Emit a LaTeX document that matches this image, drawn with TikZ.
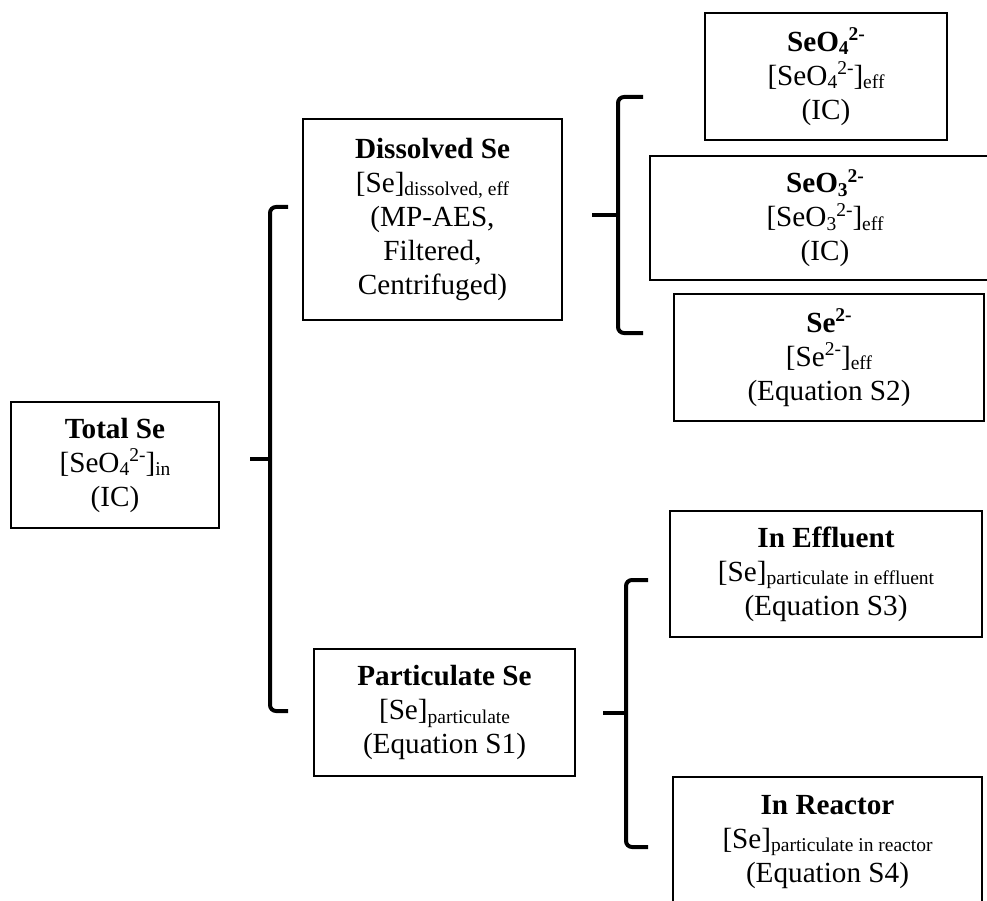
\documentclass[tikz,border=0pt]{standalone}
\usepackage{fontspec}
\setmainfont{Liberation Serif}
\newcommand\mysb[1]{\raisebox{-0.12em}{\fontsize{19.5}{20}\selectfont #1}}
\newcommand\mysp[1]{\raisebox{0.36em}{\fontsize{19.5}{20}\selectfont #1}}
\begin{document}
\begin{tikzpicture}[x=1pt,y=-1pt,
  box/.style={draw, line width=1.5pt, inner sep=0pt, align=center,
    font=\fontsize{29.2}{34}\selectfont},
  brace/.style={draw, line width=4pt, rounded corners=6pt}]
\useasboundingbox (0,0) rectangle (987,901);
\clip (0,0) rectangle (987,901);
% boxes
\node[box, minimum width=208pt, minimum height=126pt] (tot) at (115,465)
  {\textbf{Total Se}\\{[}SeO\mysb{4}\mysp{2-}]\mysb{in}\\(IC)};
\node[box, minimum width=259pt, minimum height=201pt] (dis) at (432.5,219.5)
  {\textbf{Dissolved Se}\\{[}Se]\mysb{dissolved, eff}\\(MP-AES,\\Filtered,\\Centrifuged)};
\node[box, minimum width=261pt, minimum height=127pt] (par) at (444.5,712.5)
  {\textbf{Particulate Se}\\{[}Se]\mysb{particulate}\\(Equation S1)};
\node[box, minimum width=242pt, minimum height=127pt] (s4) at (826,76.5)
  {\textbf{SeO\mysb{4}\mysp{2-}}\\{[}SeO\mysb{4}\mysp{2-}]\mysb{eff}\\(IC)};
\node[box, minimum width=350pt, minimum height=124pt] (s3) at (825,218)
  {\textbf{SeO\mysb{3}\mysp{2-}}\\{[}SeO\mysb{3}\mysp{2-}]\mysb{eff}\\(IC)};
\node[box, minimum width=310pt, minimum height=127pt] (s2) at (829,357.5)
  {\textbf{Se\mysp{2-}}\\{[}Se\mysp{2-}]\mysb{eff}\\(Equation S2)};
\node[box, minimum width=312pt, minimum height=126pt] (eff) at (826,574)
  {\textbf{In Effluent}\\{[}Se]\mysb{particulate in effluent}\\(Equation S3)};
\node[box, minimum width=309pt, minimum height=130pt] (rea) at (827.5,842)
  {\textbf{In Reactor}\\{[}Se]\mysb{particulate in reactor}\\(Equation S4)};
% brace 1: Total -> Dissolved / Particulate
\coordinate (b1t) at (250,459);
\coordinate (b1a) at (288,207);
\coordinate (b1b) at (288,711);
\draw[brace] (b1a) -- (270,207) -- (270,711) -- (b1b);
\draw[brace, rounded corners=0pt] (b1t) -- (270,459);
% brace 2: Dissolved -> SeO4 / SeO3 / Se2-
\coordinate (b2t) at (592,215);
\coordinate (b2a) at (643,97);
\coordinate (b2b) at (643,333);
\draw[brace] (b2a) -- (618,97) -- (618,333) -- (b2b);
\draw[brace, rounded corners=0pt] (b2t) -- (618,215);
% brace 3: Particulate -> In Effluent / In Reactor
\coordinate (b3t) at (603,713);
\coordinate (b3a) at (648,580);
\coordinate (b3b) at (648,847);
\draw[brace] (b3a) -- (626,580) -- (626,847) -- (b3b);
\draw[brace, rounded corners=0pt] (b3t) -- (626,713);
\end{tikzpicture}
\end{document}
